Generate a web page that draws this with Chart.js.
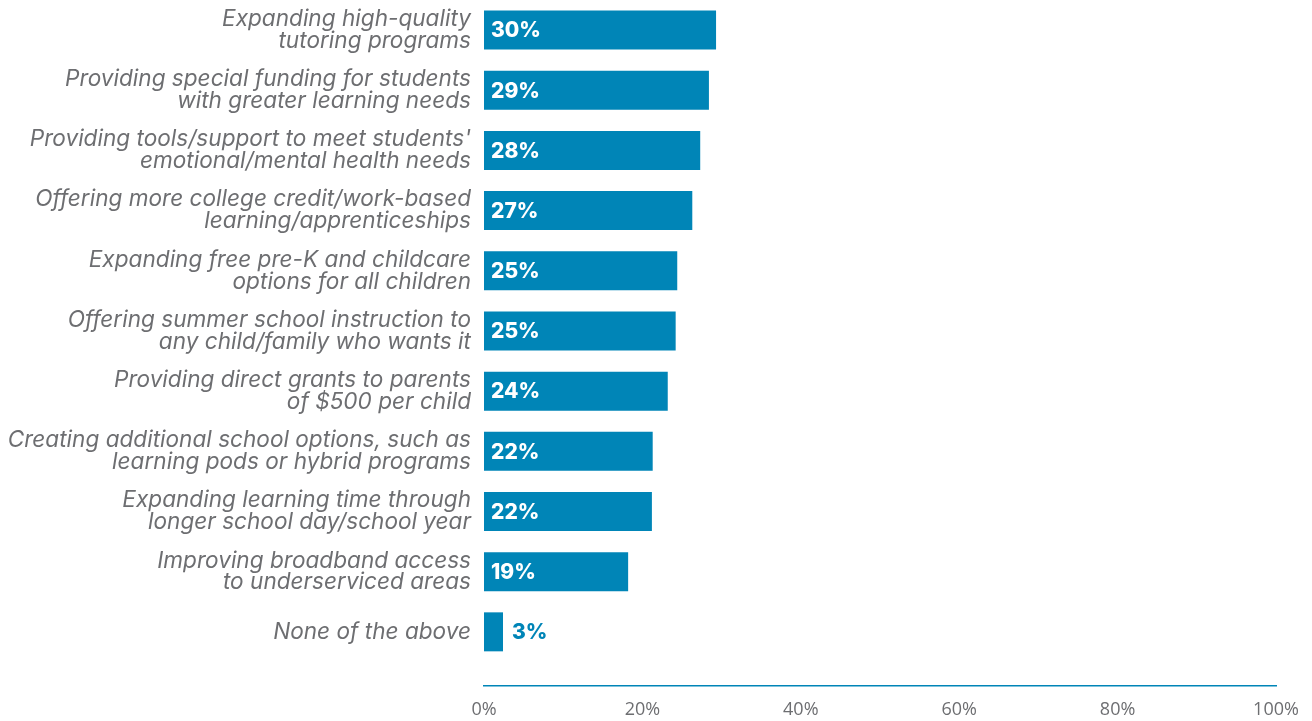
<!DOCTYPE html>
<html>
<head>
<meta charset="utf-8">
<script src="https://cdn.jsdelivr.net/npm/chart.js@4.4.0/dist/chart.umd.min.js"></script>
<style>
  html, body { margin: 0; padding: 0; background: #fff; }
  #wrap { width: 1312px; height: 721px; }
</style>
</head>
<body>
<div id="wrap"><canvas id="programs"></canvas></div>
<script>
// Support for learning recovery programs
const categories = [
  ['Expanding high-quality', 'tutoring programs'],
  ['Providing special funding for students', 'with greater learning needs'],
  ["Providing tools/support to meet students'", 'emotional/mental health needs'],
  ['Offering more college credit/work-based', 'learning/apprenticeships'],
  ['Expanding free pre-K and childcare', 'options for all children'],
  ['Offering summer school instruction to', 'any child/family who wants it'],
  ['Providing direct grants to parents', 'of $500 per child'],
  ['Creating additional school options, such as', 'learning pods or hybrid programs'],
  ['Expanding learning time through', 'longer school day/school year'],
  ['Improving broadband access', 'to underserviced areas'],
  ['None of the above']
];
// bar lengths as drawn
const values = [29.3, 28.4, 27.3, 26.3, 24.4, 24.2, 23.2, 21.3, 21.2, 18.2, 2.4];
// percentages as printed on the bars
const valueLabels = ['30%', '29%', '28%', '27%', '25%', '25%', '24%', '22%', '22%', '19%', '3%'];
const xTicks = [0, 20, 40, 60, 80, 100];

const BLUE = '#0085b7';
const GRAY = '#6d6e71';

const barLabels = {
  id: 'barLabels',
  afterDatasetsDraw(chart) {
    const ctx = chart.ctx;
    const meta = chart.getDatasetMeta(0);
    ctx.save();
    ctx.font = '800 21px Inter';
    ctx.textBaseline = 'middle';
    ctx.textAlign = 'left';
    meta.data.forEach((bar, i) => {
      const w = Math.abs(bar.x - bar.base);
      if (w > 45) {
        ctx.fillStyle = '#fff';
        ctx.fillText(valueLabels[i], bar.base + 7, bar.y + 1);
      } else {
        ctx.fillStyle = BLUE;
        ctx.fillText(valueLabels[i], bar.x + 9, bar.y + 1);
      }
    });
    ctx.restore();
  }
};

new Chart(document.getElementById('programs'), {
  type: 'bar',
  data: {
    datasets: [{
      data: values.map((v, i) => ({ x: v, y: i })),
      backgroundColor: BLUE,
      borderWidth: 0,
      barPercentage: 0.81,
      categoryPercentage: 0.8
    }]
  },
  options: {
    indexAxis: 'y',
    responsive: true,
    maintainAspectRatio: false,
    animation: false,
    layout: { padding: { top: 0, right: 36, bottom: 0, left: 0 } },
    plugins: {
      legend: { display: false },
      tooltip: { enabled: false }
    },
    scales: {
      x: {
        type: 'linear',
        min: 0,
        max: 100,
        afterBuildTicks: s => { s.ticks = xTicks.map(v => ({ value: v })); },
        afterFit: s => { s.height = 35; },
        grid: { display: false },
        border: { display: true, color: BLUE, width: 1.5 },
        ticks: {
          color: GRAY,
          font: { family: '"Open Sans"', size: 18 },
          padding: 5,
          callback: v => v + '%'
        }
      },
      y: {
        type: 'linear',
        reverse: true,
        offset: false,
        min: -0.5,
        max: 10.9,
        afterBuildTicks: s => { s.ticks = categories.map((_, i) => ({ value: i })); },
        afterFit: s => { s.width = 484; s.paddingTop = 0; s.paddingBottom = 0; },
        grid: { display: false, offset: false },
        border: { display: false },
        ticks: {
          color: GRAY,
          font: { family: 'Inter', size: 22.6, style: 'italic', lineHeight: 0.97 },
          padding: 5,
          callback: v => categories[v]
        }
      }
    }
  },
  plugins: [barLabels]
});
</script>
</body>
</html>
